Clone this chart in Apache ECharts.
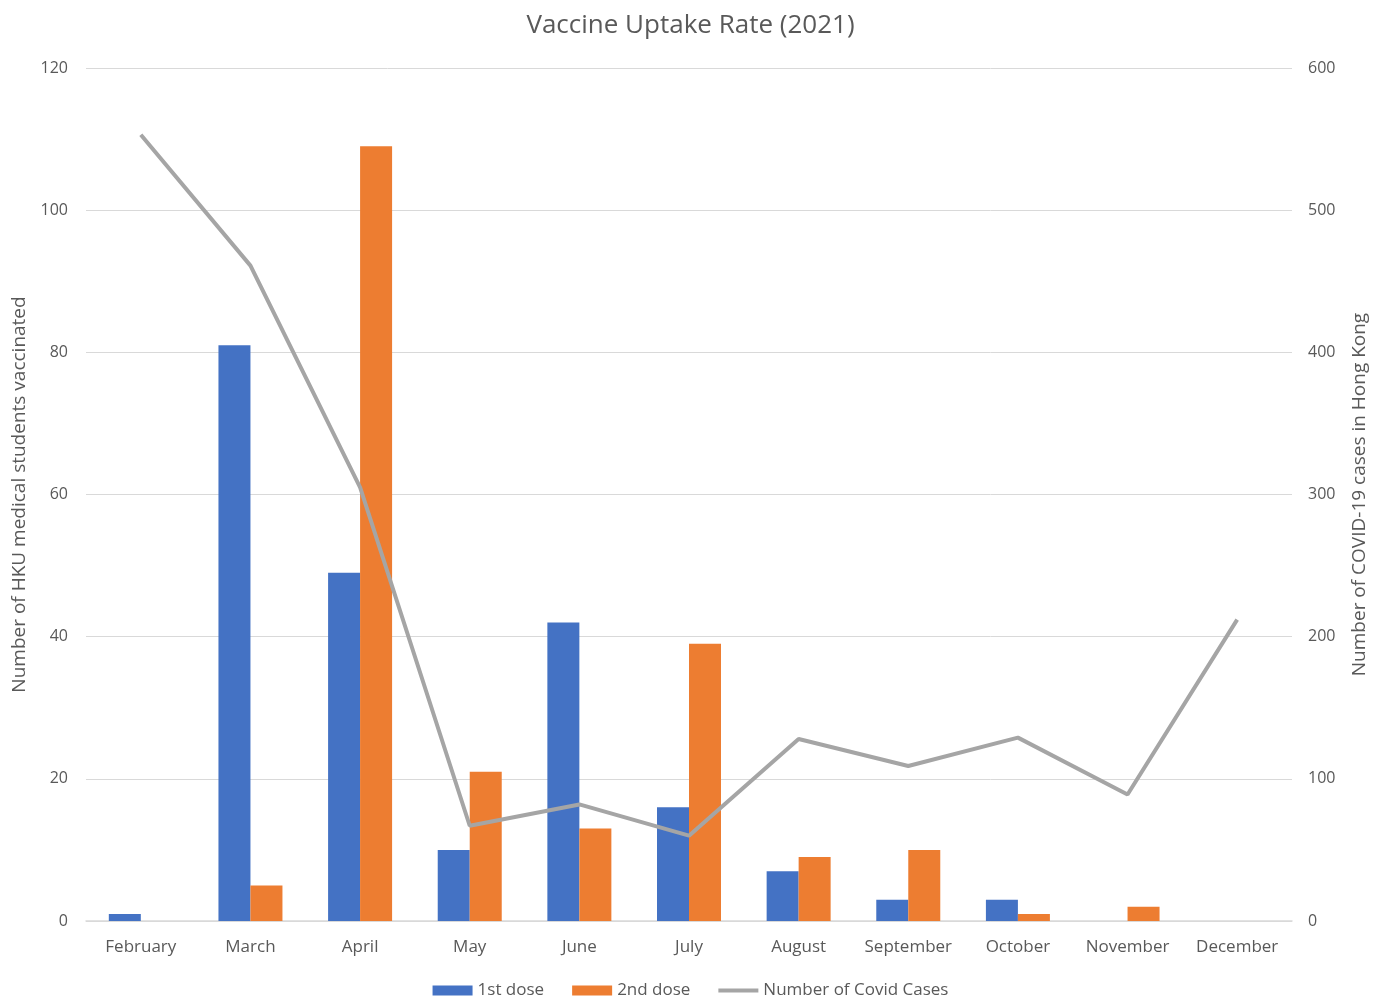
<!DOCTYPE html>
<html>
<head>
<meta charset="utf-8">
<script src="https://cdn.jsdelivr.net/npm/echarts@6/dist/echarts.min.js"></script>
<style>html,body{margin:0;padding:0;background:#fff}#c{width:1381px;height:998px}</style>
</head>
<body>
<div id="c"></div>
<script>
const months = ['February','March','April','May','June','July','August','September','October','November','December'];
const firstDose = [1, 81, 49, 10, 42, 16, 7, 3, 3, 0, 0];
const secondDose = [0, 5, 109, 21, 13, 39, 9, 10, 1, 2, 0];
const covidCases = [553, 461, 305, 67, 82, 60, 128, 109, 129, 89, 212];
const leftTicks = {min: 0, max: 120, interval: 20};
const rightTicks = {min: 0, max: 600, interval: 100};

const font = '"Open Sans", "Noto Sans", sans-serif';
const txt = '#595959';
const chart = echarts.init(document.getElementById('c'));
chart.setOption({
  animation: false,
  textStyle: {fontFamily: font},
  title: {
    text: 'Vaccine Uptake Rate (2021)', left: 'center', top: 8,
    textStyle: {fontFamily: font, fontSize: 26, fontWeight: 'normal', color: txt}
  },
  legend: {
    top: 977, left: 'center', itemGap: 28, itemWidth: 40, itemHeight: 10,
    textStyle: {fontFamily: font, fontSize: 17, color: txt},
    data: [
      {name: '1st dose', icon: 'rect'},
      {name: '2nd dose', icon: 'rect'},
      {name: 'Number of Covid Cases', icon: 'path://M0,0 L40,0 L40,4 L0,4 Z'}
    ]
  },
  grid: {left: 86, right: 89, top: 68, bottom: 77, containLabel: false, outerBoundsMode: 'none'},
  xAxis: {
    type: 'category', data: months,
    axisLine: {lineStyle: {color: '#d9d9d9', width: 1.5}},
    axisTick: {show: false},
    axisLabel: {fontFamily: font, fontSize: 17, color: txt, margin: 18, interval: 0}
  },
  yAxis: [
    {
      type: 'value', min: leftTicks.min, max: leftTicks.max, interval: leftTicks.interval,
      name: 'Number of HKU medical students vaccinated', nameLocation: 'middle', nameGap: 57,
      nameTextStyle: {fontFamily: font, fontSize: 19, color: txt},
      axisLine: {show: false}, axisTick: {show: false},
      axisLabel: {fontFamily: font, fontSize: 16, color: txt, margin: 18},
      splitLine: {lineStyle: {color: '#d9d9d9', width: 1}}
    },
    {
      type: 'value', min: rightTicks.min, max: rightTicks.max, interval: rightTicks.interval,
      name: 'Number of COVID-19 cases in Hong Kong', nameLocation: 'middle', nameGap: 58,
      nameTextStyle: {fontFamily: font, fontSize: 19, color: txt},
      axisLine: {show: false}, axisTick: {show: false},
      axisLabel: {fontFamily: font, fontSize: 16, color: txt, margin: 16},
      splitLine: {show: false}
    }
  ],
  series: [
    {name: '1st dose', type: 'bar', data: firstDose, barWidth: 32, barGap: '0%',
     itemStyle: {color: '#4472c4'}},
    {name: '2nd dose', type: 'bar', data: secondDose, barWidth: 32, barGap: '0%',
     itemStyle: {color: '#ed7d31'}},
    {name: 'Number of Covid Cases', type: 'line', yAxisIndex: 1, data: covidCases,
     symbol: 'none', lineStyle: {color: '#a5a5a5', width: 4}, itemStyle: {color: '#a5a5a5'}}
  ]
});
</script>
</body>
</html>
